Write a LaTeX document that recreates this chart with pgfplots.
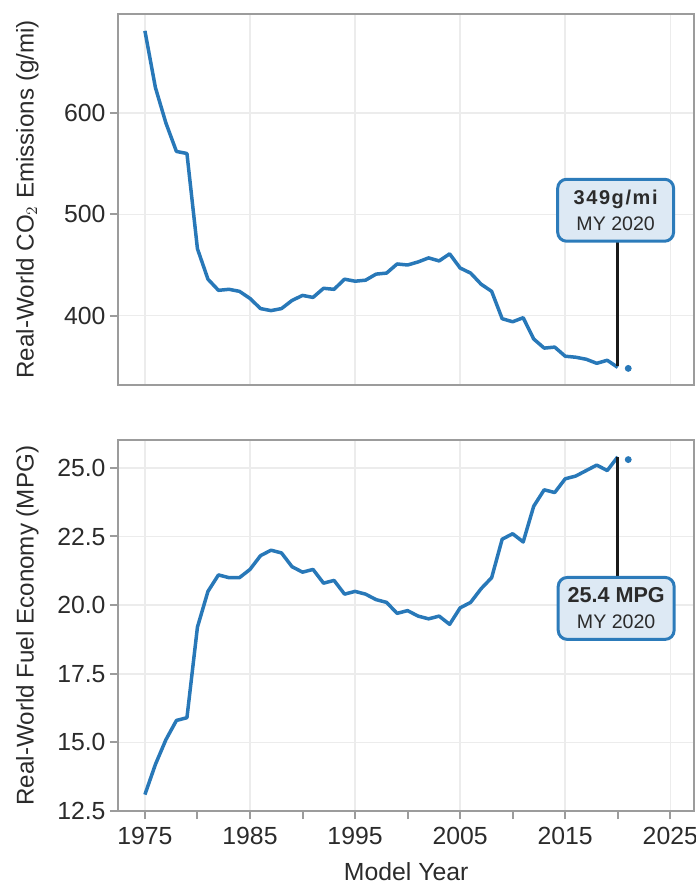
\documentclass[border=0pt]{standalone}
\usepackage{fontspec}
\setmainfont{Liberation Sans}
\newfontfamily\spaced[LetterSpace=8]{Liberation Sans}
\usepackage{pgfplots}
\pgfplotsset{compat=1.18}
\usetikzlibrary{calc}

\definecolor{lineblue}{HTML}{2878B8}
\definecolor{boxfill}{HTML}{DDE9F4}
\definecolor{boxedge}{HTML}{2C7BBA}
\definecolor{framegray}{HTML}{9C9C9C}
\definecolor{gridgray}{HTML}{ECECEC}
\definecolor{textgray}{HTML}{2B2B2B}

% real-world CO2 (g/mi) and fuel economy (MPG) by model year
\pgfplotsset{
  panel/.style={
    scale only axis,
    width=288.5pt, height=185.5pt,
    xmin=1972.43, xmax=2027.3,
    axis line style={framegray, line width=1pt},
    tick style={framegray, line width=1pt},
    major tick length=4pt,
    minor tick length=4pt,
    tick align=outside,
    tick pos=left,
    xtick={1975,1985,...,2025},
    minor xtick={1980,1990,...,2020},
    ymajorgrids, xmajorgrids,
    major grid style={gridgray, line width=0.75pt},
    font=\fontsize{12.4}{14}\selectfont,
    tick label style={textgray, font=\fontsize{12.4}{14}\selectfont},
    label style={textgray},
    /pgf/number format/assume math mode=true,
    clip=false,
    ylabel style={at={(axis description cs:0,0.5)}, anchor=south, inner sep=0pt,
      yshift=39.5pt, font=\fontsize{12.1}{14}\selectfont},
  },
}
\tikzset{
  callout/.style={draw=boxedge, fill=boxfill, line width=1.5pt,
    rounded corners=4.5pt, minimum width=58pt, minimum height=31pt,
    align=center, inner sep=2pt, text=textgray},
}

\begin{document}
\begin{tikzpicture}
\begin{axis}[panel, name=top, anchor=north west, at={(0,0)},
    ymin=331.9, ymax=697.6,
    ytick={400,500,600},
    xticklabels={}, xtick style={draw=none}, minor xtick={},
    ylabel={Real-World CO$_2$ Emissions (g/mi)},
    yticklabel style={inner sep=0pt, xshift=-2pt},
  ]
  \addplot[lineblue, line width=1.75pt, line join=round] coordinates {
    (1975,681) (1976,625) (1977,590) (1978,562) (1979,560) (1980,466)
    (1981,436) (1982,425) (1983,426) (1984,424) (1985,417) (1986,407)
    (1987,405) (1988,407) (1989,415) (1990,420) (1991,418) (1992,427)
    (1993,426) (1994,436) (1995,434) (1996,435) (1997,441) (1998,442)
    (1999,451) (2000,450) (2001,453) (2002,457) (2003,454) (2004,461)
    (2005,447) (2006,442) (2007,431) (2008,424) (2009,397) (2010,394)
    (2011,398) (2012,377) (2013,368) (2014,369) (2015,360) (2016,359)
    (2017,357) (2018,353) (2019,356) (2020,349)
  };
  \addplot[only marks, mark=*, mark size=1.5pt, lineblue] coordinates {(2021,348)};
  \addplot[black!90, line width=1.5pt] coordinates {(2020,350) (2020,474)};
  \node[callout] at (axis cs:2019.8,504)
    {{\fontsize{10}{12}\selectfont\bfseries\spaced 349g/mi}\\[-1pt]
     {\fontsize{9.8}{12}\selectfont MY 2020}};
\end{axis}

\begin{axis}[panel, name=bot, anchor=north west, at={(0,-213.35pt)},
    ymin=12.5, ymax=26.0,
    ytick={12.5,15,17.5,20,22.5,25},
    yticklabel style={/pgf/number format/.cd, fixed, fixed zerofill, precision=1, /tikz/.cd, inner sep=0pt, xshift=-2pt},
    xticklabel style={/pgf/number format/1000 sep={}, inner sep=0pt, yshift=-4pt},
    xlabel={Model Year},
    xlabel style={at={(axis description cs:0.5,0)}, anchor=north, inner sep=0pt, yshift=-25.5pt},
    ylabel={Real-World Fuel Economy (MPG)},
  ]
  \addplot[lineblue, line width=1.75pt, line join=round] coordinates {
    (1975,13.1) (1976,14.2) (1977,15.1) (1978,15.8) (1979,15.9) (1980,19.2)
    (1981,20.5) (1982,21.1) (1983,21.0) (1984,21.0) (1985,21.3) (1986,21.8)
    (1987,22.0) (1988,21.9) (1989,21.4) (1990,21.2) (1991,21.3) (1992,20.8)
    (1993,20.9) (1994,20.4) (1995,20.5) (1996,20.4) (1997,20.2) (1998,20.1)
    (1999,19.7) (2000,19.8) (2001,19.6) (2002,19.5) (2003,19.6) (2004,19.3)
    (2005,19.9) (2006,20.1) (2007,20.6) (2008,21.0) (2009,22.4) (2010,22.6)
    (2011,22.3) (2012,23.6) (2013,24.2) (2014,24.1) (2015,24.6) (2016,24.7)
    (2017,24.9) (2018,25.1) (2019,24.9) (2020,25.4)
  };
  \addplot[only marks, mark=*, mark size=1.5pt, lineblue] coordinates {(2021,25.3)};
  \addplot[black!90, line width=1.5pt] coordinates {(2020,25.4) (2020,21.03)};
  \node[callout] at (axis cs:2019.85,19.88)
    {{\fontsize{10.8}{12}\selectfont\bfseries 25.4 MPG}\\[-1pt]
     {\fontsize{9.8}{12}\selectfont MY 2020}};
\end{axis}

\pgfresetboundingbox
\path ($(top.north west)+(-59pt,7pt)$) rectangle ($(bot.south east)+(0.5pt,-36.5pt)$);
\end{tikzpicture}
\end{document}
